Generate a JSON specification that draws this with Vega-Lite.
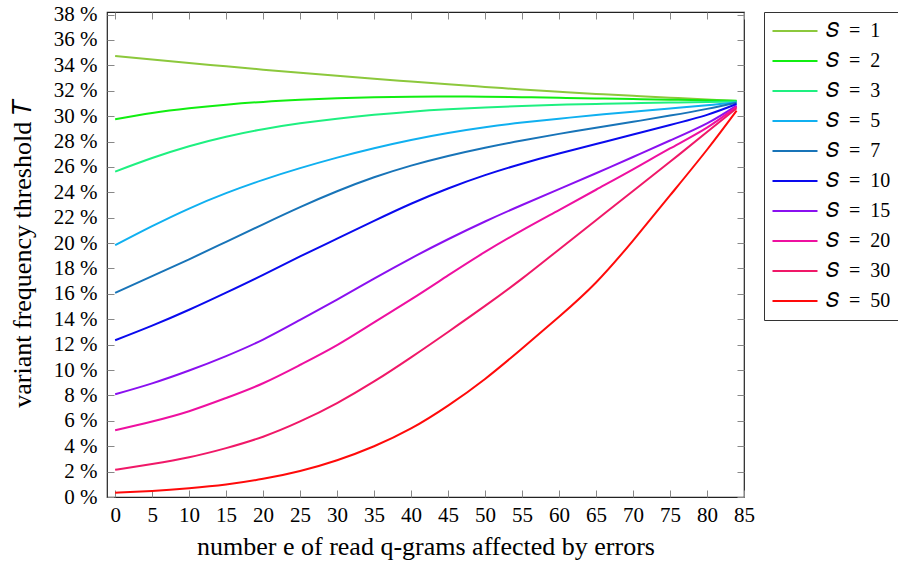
{
  "$schema": "https://vega.github.io/schema/vega-lite/v6.json",
  "autosize": "none",
  "width": 637,
  "height": 485,
  "padding": {"left": 107, "top": 12, "right": 154, "bottom": 71},
  "background": "white",
  "config": {
    "view": {"stroke": "#222", "strokeWidth": 1.2},
    "font": "Liberation Serif",
    "axis": {"grid": false, "domain": false, "tickColor": "#888", "tickSize": -7, "tickWidth": 1, "labelColor": "#000", "titleColor": "#000", "labelFont": "Liberation Serif", "titleFont": "Liberation Serif", "labelFontSize": 21, "titleFontSize": 26, "titleFontWeight": "normal"},
    "legend": {"labelFont": "Liberation Serif", "labelFontSize": 20, "labelColor": "#000"}
  },
  "data": {"values": [
    {"S":1,"e":0,"T":34.74},{"S":1,"e":5,"T":34.45},{"S":1,"e":10,"T":34.18},{"S":1,"e":15,"T":33.92},{"S":1,"e":20,"T":33.66},{"S":1,"e":25,"T":33.41},{"S":1,"e":30,"T":33.17},{"S":1,"e":35,"T":32.94},{"S":1,"e":40,"T":32.72},{"S":1,"e":45,"T":32.5},{"S":1,"e":50,"T":32.3},{"S":1,"e":55,"T":32.1},{"S":1,"e":60,"T":31.92},{"S":1,"e":65,"T":31.75},{"S":1,"e":70,"T":31.6},{"S":1,"e":75,"T":31.45},{"S":1,"e":80,"T":31.31},{"S":1,"e":84,"T":31.2},
    {"S":2,"e":0,"T":29.75},{"S":2,"e":5,"T":30.25},{"S":2,"e":10,"T":30.62},{"S":2,"e":15,"T":30.9},{"S":2,"e":20,"T":31.12},{"S":2,"e":25,"T":31.28},{"S":2,"e":30,"T":31.4},{"S":2,"e":35,"T":31.48},{"S":2,"e":40,"T":31.53},{"S":2,"e":45,"T":31.55},{"S":2,"e":50,"T":31.53},{"S":2,"e":55,"T":31.49},{"S":2,"e":60,"T":31.44},{"S":2,"e":65,"T":31.39},{"S":2,"e":70,"T":31.34},{"S":2,"e":75,"T":31.29},{"S":2,"e":80,"T":31.24},{"S":2,"e":84,"T":31.2},
    {"S":3,"e":0,"T":25.63},{"S":3,"e":5,"T":26.7},{"S":3,"e":10,"T":27.63},{"S":3,"e":15,"T":28.38},{"S":3,"e":20,"T":28.97},{"S":3,"e":25,"T":29.43},{"S":3,"e":30,"T":29.8},{"S":3,"e":35,"T":30.1},{"S":3,"e":40,"T":30.35},{"S":3,"e":45,"T":30.54},{"S":3,"e":50,"T":30.68},{"S":3,"e":55,"T":30.8},{"S":3,"e":60,"T":30.89},{"S":3,"e":65,"T":30.96},{"S":3,"e":70,"T":31.02},{"S":3,"e":75,"T":31.07},{"S":3,"e":80,"T":31.11},{"S":3,"e":84,"T":31.15},
    {"S":5,"e":0,"T":19.83},{"S":5,"e":5,"T":21.33},{"S":5,"e":10,"T":22.72},{"S":5,"e":15,"T":23.93},{"S":5,"e":20,"T":24.98},{"S":5,"e":25,"T":25.9},{"S":5,"e":30,"T":26.73},{"S":5,"e":35,"T":27.47},{"S":5,"e":40,"T":28.12},{"S":5,"e":45,"T":28.67},{"S":5,"e":50,"T":29.12},{"S":5,"e":55,"T":29.49},{"S":5,"e":60,"T":29.8},{"S":5,"e":65,"T":30.08},{"S":5,"e":70,"T":30.35},{"S":5,"e":75,"T":30.6},{"S":5,"e":80,"T":30.85},{"S":5,"e":84,"T":31.09},
    {"S":7,"e":0,"T":16.08},{"S":7,"e":5,"T":17.4},{"S":7,"e":10,"T":18.72},{"S":7,"e":15,"T":20.1},{"S":7,"e":20,"T":21.48},{"S":7,"e":25,"T":22.83},{"S":7,"e":30,"T":24.08},{"S":7,"e":35,"T":25.18},{"S":7,"e":40,"T":26.1},{"S":7,"e":45,"T":26.86},{"S":7,"e":50,"T":27.51},{"S":7,"e":55,"T":28.08},{"S":7,"e":60,"T":28.6},{"S":7,"e":65,"T":29.08},{"S":7,"e":70,"T":29.55},{"S":7,"e":75,"T":30.04},{"S":7,"e":80,"T":30.57},{"S":7,"e":84,"T":31.05},
    {"S":10,"e":0,"T":12.35},{"S":10,"e":5,"T":13.5},{"S":10,"e":10,"T":14.75},{"S":10,"e":15,"T":16.1},{"S":10,"e":20,"T":17.5},{"S":10,"e":25,"T":18.95},{"S":10,"e":30,"T":20.35},{"S":10,"e":35,"T":21.75},{"S":10,"e":40,"T":23.1},{"S":10,"e":45,"T":24.3},{"S":10,"e":50,"T":25.35},{"S":10,"e":55,"T":26.25},{"S":10,"e":60,"T":27.05},{"S":10,"e":65,"T":27.8},{"S":10,"e":70,"T":28.55},{"S":10,"e":75,"T":29.3},{"S":10,"e":80,"T":30.1},{"S":10,"e":84,"T":30.95},
    {"S":15,"e":0,"T":8.09},{"S":15,"e":5,"T":8.95},{"S":15,"e":10,"T":9.96},{"S":15,"e":15,"T":11.1},{"S":15,"e":20,"T":12.4},{"S":15,"e":25,"T":13.95},{"S":15,"e":30,"T":15.55},{"S":15,"e":35,"T":17.2},{"S":15,"e":40,"T":18.8},{"S":15,"e":45,"T":20.3},{"S":15,"e":50,"T":21.7},{"S":15,"e":55,"T":23.0},{"S":15,"e":60,"T":24.25},{"S":15,"e":65,"T":25.5},{"S":15,"e":70,"T":26.78},{"S":15,"e":75,"T":28.08},{"S":15,"e":80,"T":29.43},{"S":15,"e":84,"T":30.83},
    {"S":20,"e":0,"T":5.26},{"S":20,"e":5,"T":5.95},{"S":20,"e":10,"T":6.76},{"S":20,"e":15,"T":7.8},{"S":20,"e":20,"T":8.96},{"S":20,"e":25,"T":10.4},{"S":20,"e":30,"T":11.96},{"S":20,"e":35,"T":13.75},{"S":20,"e":40,"T":15.56},{"S":20,"e":45,"T":17.45},{"S":20,"e":50,"T":19.3},{"S":20,"e":55,"T":21.0},{"S":20,"e":60,"T":22.6},{"S":20,"e":65,"T":24.2},{"S":20,"e":70,"T":25.8},{"S":20,"e":75,"T":27.45},{"S":20,"e":80,"T":29.1},{"S":20,"e":84,"T":30.75},
    {"S":30,"e":0,"T":2.14},{"S":30,"e":5,"T":2.6},{"S":30,"e":10,"T":3.13},{"S":30,"e":15,"T":3.85},{"S":30,"e":20,"T":4.75},{"S":30,"e":25,"T":5.95},{"S":30,"e":30,"T":7.4},{"S":30,"e":35,"T":9.1},{"S":30,"e":40,"T":11.0},{"S":30,"e":45,"T":13.0},{"S":30,"e":50,"T":15.05},{"S":30,"e":55,"T":17.2},{"S":30,"e":60,"T":19.5},{"S":30,"e":65,"T":21.8},{"S":30,"e":70,"T":24.1},{"S":30,"e":75,"T":26.4},{"S":30,"e":80,"T":28.75},{"S":30,"e":84,"T":30.62},
    {"S":50,"e":0,"T":0.33},{"S":50,"e":5,"T":0.48},{"S":50,"e":10,"T":0.69},{"S":50,"e":15,"T":0.98},{"S":50,"e":20,"T":1.43},{"S":50,"e":25,"T":2.05},{"S":50,"e":30,"T":2.9},{"S":50,"e":35,"T":4.0},{"S":50,"e":40,"T":5.4},{"S":50,"e":45,"T":7.2},{"S":50,"e":50,"T":9.3},{"S":50,"e":55,"T":11.7},{"S":50,"e":60,"T":14.2},{"S":50,"e":65,"T":16.9},{"S":50,"e":70,"T":20.2},{"S":50,"e":75,"T":23.75},{"S":50,"e":80,"T":27.35},{"S":50,"e":84,"T":30.43}
  ]},
  "layer": [
    {
      "mark": {"type": "line", "strokeWidth": 2, "interpolate": "natural"},
      "encoding": {
        "x": {"field": "e", "type": "quantitative",
          "scale": {"domain": [-1.1, 85], "nice": false, "zero": false},
          "axis": {"orient": "bottom", "values": [0,5,10,15,20,25,30,35,40,45,50,55,60,65,70,75,80,85], "labelPadding": 14, "labelFlush": false,
            "title": "number e of read q-grams affected by errors", "titleX": 318.5, "titleY": 57, "titleBaseline": "alphabetic", "titleAlign": "center"}},
        "y": {"field": "T", "type": "quantitative",
          "scale": {"domain": [0, 38.2], "nice": false},
          "axis": {"orient": "left", "values": [0,2,4,6,8,10,12,14,16,18,20,22,24,26,28,30,32,34,36,38], "labelPadding": 17, "labelFlush": false,
            "labelExpr": "datum.value + ' %'",
            "title": "variant frequency threshold 𝑇", "titleX": -85, "titleY": 241, "titleAngle": -90, "titleAlign": "center", "titleBaseline": "middle"}},
        "color": {"field": "S", "type": "ordinal",
          "scale": {"domain": [1,2,3,5,7,10,15,20,30,50], "range": ["#8cc83c","#11ee11","#1ef080","#10b0f0","#1874b8","#0a0aee","#8a10f0","#ee10a0","#f01868","#ff0a0a"]},
          "legend": {"title": null, "orient": "none", "legendX": 657, "legendY": 0, "strokeColor": "#333", "padding": 9,
            "symbolType": "M-2.5,0H2.5", "symbolSize": 324, "symbolStrokeWidth": 2, "symbolOffset": 12, "labelOffset": 21, "rowPadding": 10,
            "labelExpr": "'𝑆\u2002=\u2002' + datum.label"}}
      }
    },
    {
      "mark": {"type": "line", "opacity": 0},
      "encoding": {
        "x": {"field": "e", "type": "quantitative", "axis": {"orient": "top", "labels": false, "title": null, "values": [0,5,10,15,20,25,30,35,40,45,50,55,60,65,70,75,80,85]}},
        "y": {"field": "T", "type": "quantitative", "axis": {"orient": "right", "labels": false, "title": null, "values": [0,2,4,6,8,10,12,14,16,18,20,22,24,26,28,30,32,34,36,38]}},
        "detail": {"field": "S"}
      }
    }
  ],
  "resolve": {"axis": {"x": "independent", "y": "independent"}}
}
